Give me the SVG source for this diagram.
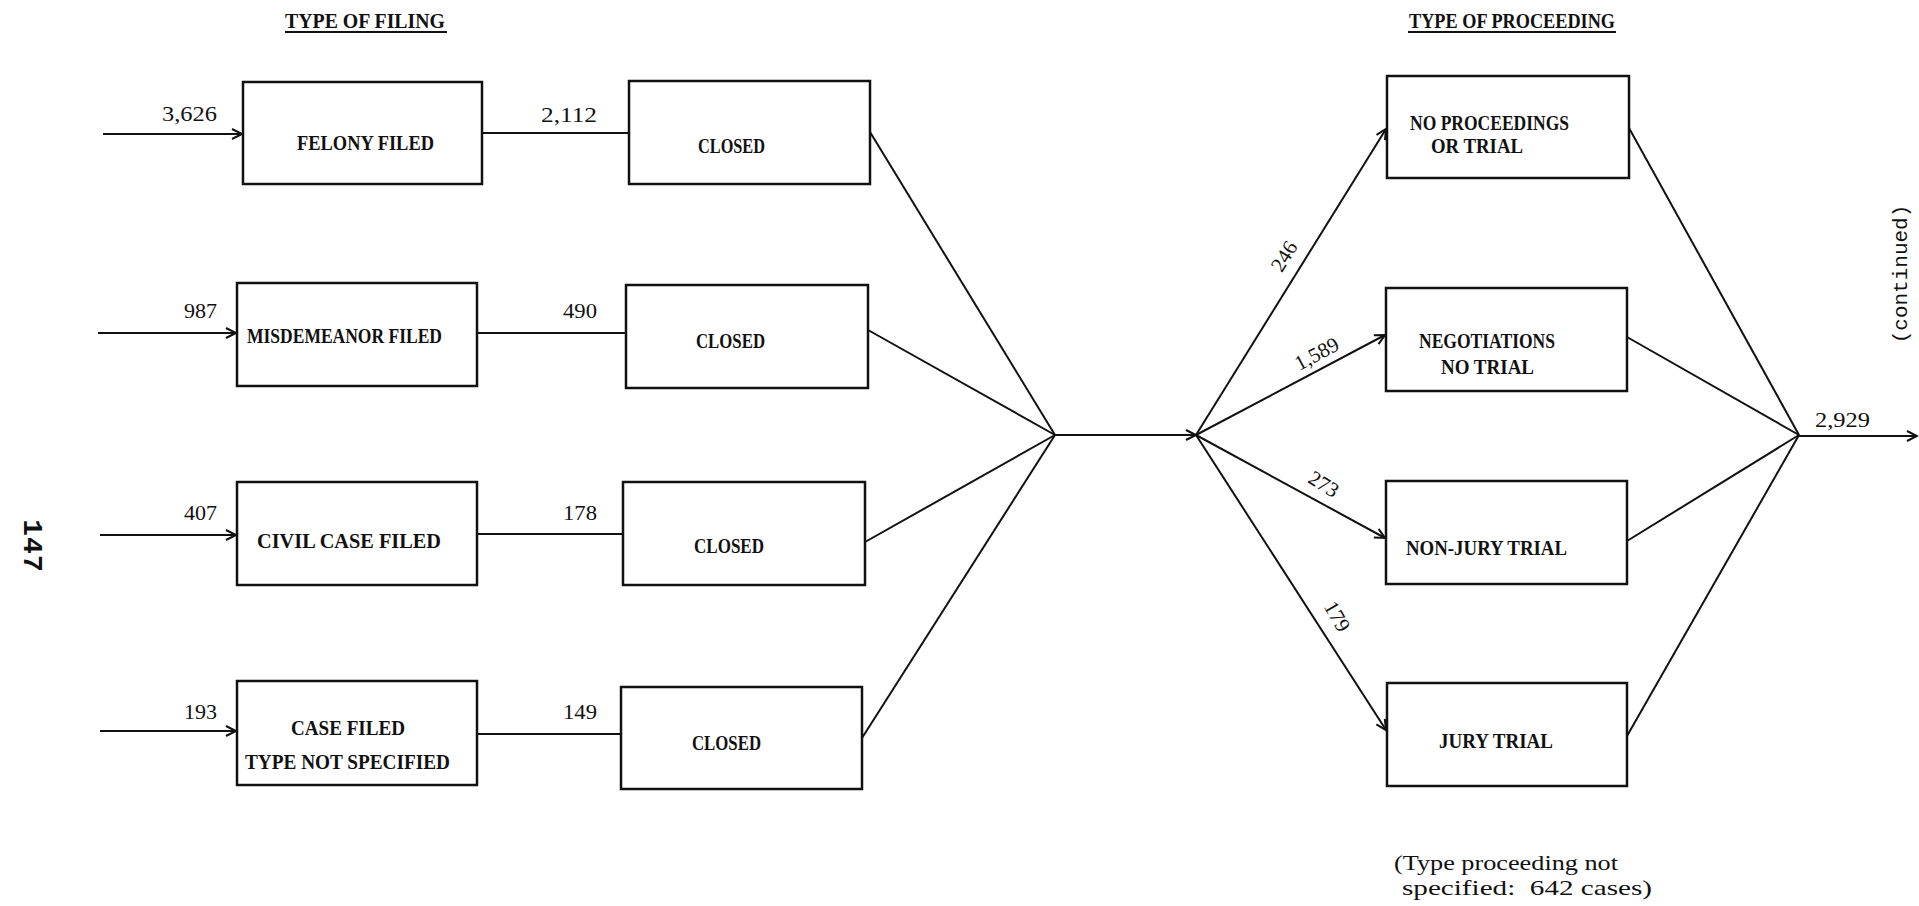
<svg xmlns="http://www.w3.org/2000/svg" width="1919" height="906" viewBox="0 0 1919 906">
<style>
.bx{fill:none;stroke:#111;stroke-width:2.5}
.ln{fill:none;stroke:#111;stroke-width:2}
.t{font-family:"Liberation Serif",serif;font-size:21px;font-weight:bold;fill:#111}
.n{font-family:"Liberation Serif",serif;font-size:21px;fill:#111}
.s{font-family:"Liberation Serif",serif;font-size:21px;fill:#111}
.m{font-family:"Liberation Mono",monospace;fill:#111}
</style>
<defs>
<marker id="ah" markerUnits="userSpaceOnUse" markerWidth="14" markerHeight="14" refX="11" refY="6" orient="auto">
<path d="M1,1 L11,6 L1,11" fill="none" stroke="#111" stroke-width="2"/>
</marker>
</defs>
<rect width="1919" height="906" fill="#fff"/>

<g id="titles">
<text class="t" x="285" y="28" textLength="160" lengthAdjust="spacingAndGlyphs">TYPE OF FILING</text>
<line class="ln" x1="285" y1="32" x2="447" y2="32"/>
<text class="t" x="1409" y="28" textLength="206" lengthAdjust="spacingAndGlyphs">TYPE OF PROCEEDING</text>
<line class="ln" x1="1408" y1="32" x2="1616" y2="32"/>
</g>

<g id="felony"><rect class="bx" x="243" y="82" width="239" height="102"/>
<text class="t" x="297" y="150" textLength="137" lengthAdjust="spacingAndGlyphs">FELONY FILED</text></g>
<g id="closed1"><rect class="bx" x="629" y="81" width="241" height="103"/>
<text class="t" x="698" y="153" textLength="67" lengthAdjust="spacingAndGlyphs">CLOSED</text></g>

<g id="misd"><rect class="bx" x="237" y="283" width="240" height="103"/>
<text class="t" x="247" y="343" textLength="195" lengthAdjust="spacingAndGlyphs">MISDEMEANOR FILED</text></g>
<g id="closed2"><rect class="bx" x="626" y="285" width="242" height="103"/>
<text class="t" x="696" y="348" textLength="69" lengthAdjust="spacingAndGlyphs">CLOSED</text></g>

<g id="civil"><rect class="bx" x="237" y="482" width="240" height="103"/>
<text class="t" x="257" y="548" textLength="184" lengthAdjust="spacingAndGlyphs">CIVIL CASE FILED</text></g>
<g id="closed3"><rect class="bx" x="623" y="482" width="242" height="103"/>
<text class="t" x="694" y="553" textLength="70" lengthAdjust="spacingAndGlyphs">CLOSED</text></g>

<g id="casefiled"><rect class="bx" x="237" y="681" width="240" height="104"/>
<text class="t" x="291" y="735" textLength="114" lengthAdjust="spacingAndGlyphs">CASE FILED</text>
<text class="t" x="245" y="769" textLength="205" lengthAdjust="spacingAndGlyphs">TYPE NOT SPECIFIED</text></g>
<g id="closed4"><rect class="bx" x="621" y="687" width="241" height="102"/>
<text class="t" x="692" y="750" textLength="69" lengthAdjust="spacingAndGlyphs">CLOSED</text></g>

<g id="noproc"><rect class="bx" x="1387" y="76" width="242" height="102"/>
<text class="t" x="1410" y="130" textLength="159" lengthAdjust="spacingAndGlyphs">NO PROCEEDINGS</text>
<text class="t" x="1431" y="153" textLength="92" lengthAdjust="spacingAndGlyphs">OR TRIAL</text></g>
<g id="negot"><rect class="bx" x="1386" y="288" width="241" height="103"/>
<text class="t" x="1419" y="348" textLength="136" lengthAdjust="spacingAndGlyphs">NEGOTIATIONS</text>
<text class="t" x="1441" y="374" textLength="93" lengthAdjust="spacingAndGlyphs">NO TRIAL</text></g>
<g id="nonjury"><rect class="bx" x="1386" y="481" width="241" height="103"/>
<text class="t" x="1406" y="555" textLength="161" lengthAdjust="spacingAndGlyphs">NON-JURY TRIAL</text></g>
<g id="jury"><rect class="bx" x="1387" y="683" width="240" height="103"/>
<text class="t" x="1439" y="748" textLength="114" lengthAdjust="spacingAndGlyphs">JURY TRIAL</text></g>

<g id="connectors">
<line class="ln" x1="103" y1="134" x2="242" y2="134" marker-end="url(#ah)"/>
<line class="ln" x1="98" y1="333" x2="236" y2="333" marker-end="url(#ah)"/>
<line class="ln" x1="100" y1="535" x2="236" y2="535" marker-end="url(#ah)"/>
<line class="ln" x1="100" y1="731" x2="236" y2="731" marker-end="url(#ah)"/>
<line class="ln" x1="482" y1="133" x2="629" y2="133"/>
<line class="ln" x1="477" y1="333" x2="626" y2="333"/>
<line class="ln" x1="477" y1="534" x2="623" y2="534"/>
<line class="ln" x1="477" y1="734" x2="621" y2="734"/>
<line class="ln" x1="870" y1="132" x2="1055" y2="435"/>
<line class="ln" x1="868" y1="330" x2="1055" y2="435"/>
<line class="ln" x1="865" y1="542" x2="1055" y2="435"/>
<line class="ln" x1="862" y1="738" x2="1055" y2="435"/>
<line class="ln" x1="1055" y1="435" x2="1196" y2="435" marker-end="url(#ah)"/>
<line class="ln" x1="1196" y1="435" x2="1386" y2="129" marker-end="url(#ah)"/>
<line class="ln" x1="1196" y1="435" x2="1385" y2="335" marker-end="url(#ah)"/>
<line class="ln" x1="1196" y1="435" x2="1385" y2="538" marker-end="url(#ah)"/>
<line class="ln" x1="1196" y1="435" x2="1386" y2="730" marker-end="url(#ah)"/>
<line class="ln" x1="1629" y1="128" x2="1799" y2="435"/>
<line class="ln" x1="1627" y1="337" x2="1799" y2="435"/>
<line class="ln" x1="1627" y1="541" x2="1799" y2="435"/>
<line class="ln" x1="1627" y1="736" x2="1799" y2="435"/>
<line class="ln" x1="1799" y1="436" x2="1917" y2="436" marker-end="url(#ah)"/>
</g>

<g id="labels">
<text class="n" x="162" y="121" textLength="55" lengthAdjust="spacingAndGlyphs">3,626</text>
<text class="n" x="541" y="122" textLength="56" lengthAdjust="spacingAndGlyphs">2,112</text>
<text class="n" x="184" y="318" textLength="33" lengthAdjust="spacingAndGlyphs">987</text>
<text class="n" x="563" y="318" textLength="34" lengthAdjust="spacingAndGlyphs">490</text>
<text class="n" x="184" y="520" textLength="33" lengthAdjust="spacingAndGlyphs">407</text>
<text class="n" x="563" y="520" textLength="34" lengthAdjust="spacingAndGlyphs">178</text>
<text class="n" x="184" y="719" textLength="33" lengthAdjust="spacingAndGlyphs">193</text>
<text class="n" x="563" y="719" textLength="34" lengthAdjust="spacingAndGlyphs">149</text>
<text class="n" x="1815" y="427" textLength="55" lengthAdjust="spacingAndGlyphs">2,929</text>
<text class="n" text-anchor="middle" transform="translate(1290,260) rotate(-58)">246</text>
<text class="n" text-anchor="middle" transform="translate(1320,360) rotate(-28)">1,589</text>
<text class="n" text-anchor="middle" transform="translate(1320,490) rotate(32)">273</text>
<text class="n" text-anchor="middle" transform="translate(1331,620) rotate(60)">179</text>
<text class="s" x="1394" y="870" textLength="224" lengthAdjust="spacingAndGlyphs">(Type proceeding not</text>
<text class="s" x="1402" y="895" textLength="250" lengthAdjust="spacingAndGlyphs" xml:space="preserve">specified:  642 cases)</text>
<text class="m" font-size="21" text-anchor="middle" transform="translate(1907,274) rotate(-90)">(continued)</text>
<text class="m" font-size="28" font-weight="bold" letter-spacing="1" text-anchor="middle" transform="translate(24,546) rotate(90)">147</text>
</g>
</svg>
